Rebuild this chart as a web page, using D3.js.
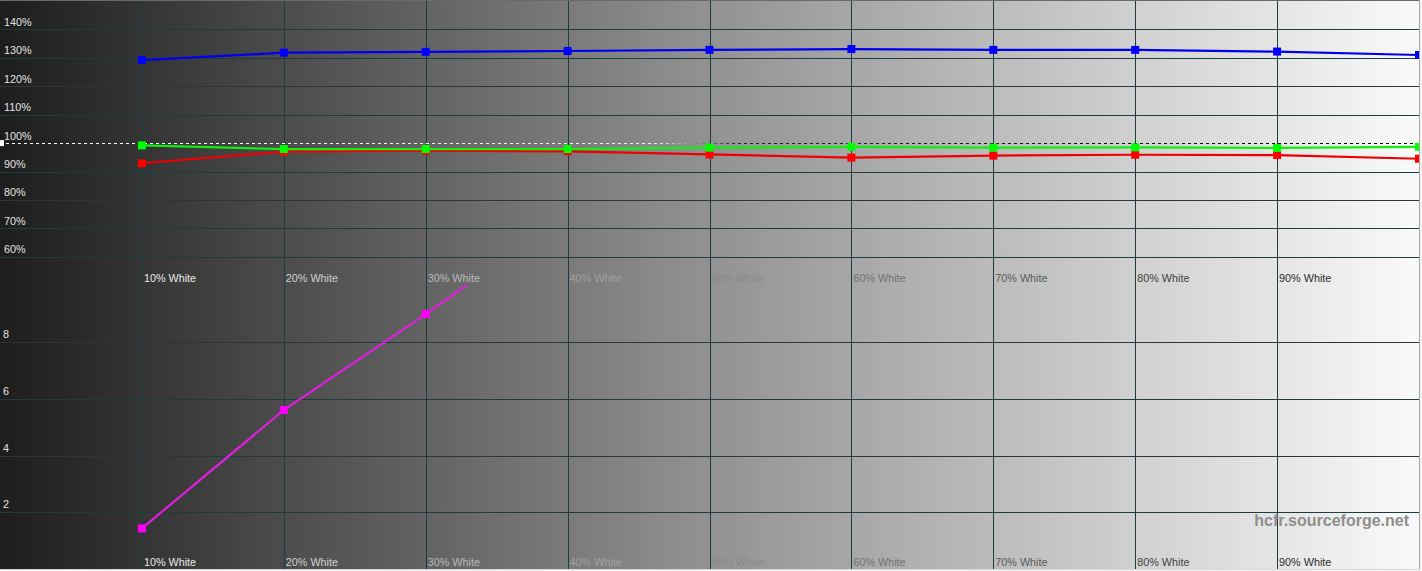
<!DOCTYPE html>
<html><head><meta charset="utf-8">
<script src="https://cdn.jsdelivr.net/npm/d3@7"></script>
<style>
html,body{margin:0;padding:0;background:#f4f4f4;overflow:hidden;}
svg{display:block;font-family:"Liberation Sans",Arial,sans-serif;}
</style></head>
<body>
<svg id="c" width="1422" height="571"></svg>
<script>
// ---- data ----
const levels = [10, 20, 30, 40, 50, 60, 70, 80, 90, 100];
const categories = ["10% White","20% White","30% White","40% White","50% White","60% White","70% White","80% White","90% White"];
const categoryLevels = [10, 20, 30, 40, 50, 60, 70, 80, 90];
const redPct   = [92.9, 97.0, 97.3, 97.1, 96.0, 94.9, 95.6, 95.9, 95.8, 94.5];
const greenPct = [99.2, 97.9, 97.9, 97.9, 98.4, 98.7, 98.4, 98.5, 98.3, 98.7];
const bluePct  = [129.2, 131.8, 132.1, 132.4, 132.8, 133.1, 132.8, 132.8, 132.2, 131.0];
const deltaELevels = [10, 20, 30, 40];
const deltaE = [1.44, 5.6, 8.97, 12.5];
const topTicks = [60, 70, 80, 90, 110, 120, 130, 140];
const topTickLabels = [60, 70, 80, 90, 100, 110, 120, 130, 140];
const bottomTicks = [2, 4, 6, 8];
const reference = 100;
const watermark = "hcfr.sourceforge.net";

// ---- layout ----
const W = 1420, H = 570;
const svg = d3.select("#c");
const x = d3.scaleLinear().domain([0, 100]).range([0, 1419]);
const yTop = d3.scaleLinear().domain([50, 150]).range([285.2, 1.0]);
const yBot = d3.scaleLinear().domain([0, 10]).range([569.4, 284.8]);

const defs = svg.append("defs");
const bg = defs.append("linearGradient").attr("id","bg").attr("x1","0").attr("x2","1").attr("y1","0").attr("y2","0");
bg.append("stop").attr("offset","0").attr("stop-color","#1d1d1d");
bg.append("stop").attr("offset","0.5").attr("stop-color","#929292");
bg.append("stop").attr("offset","1").attr("stop-color","#fafafa");
const dg = defs.append("linearGradient").attr("id","dash").attr("gradientUnits","userSpaceOnUse")
  .attr("x1",0).attr("x2",W).attr("y1",0).attr("y2",0);
dg.append("stop").attr("offset","0").attr("stop-color","#ffffff");
dg.append("stop").attr("offset","0.46").attr("stop-color","#eeeeee");
dg.append("stop").attr("offset","0.52").attr("stop-color","#222222");
dg.append("stop").attr("offset","1").attr("stop-color","#000000");
defs.append("clipPath").attr("id","clipTop").append("rect").attr("x",0).attr("y",0).attr("width",W).attr("height",285);
defs.append("clipPath").attr("id","clipBot").append("rect").attr("x",0).attr("y",285).attr("width",W).attr("height",285);

svg.append("rect").attr("x",0).attr("y",0).attr("width",W).attr("height",H).attr("fill","url(#bg)");

const gridColor = "#1c3d3d";
// horizontal grid - top panel
const gTop = svg.append("g").call(d3.axisRight(yTop).tickValues(topTicks).tickSize(W).tickFormat(""));
gTop.select(".domain").remove();
gTop.selectAll("line").attr("stroke", gridColor).attr("shape-rendering","crispEdges");
// horizontal grid - bottom panel
const gBot = svg.append("g").call(d3.axisRight(yBot).tickValues(bottomTicks).tickSize(W).tickFormat(""));
gBot.select(".domain").remove();
gBot.selectAll("line").attr("stroke", gridColor).attr("shape-rendering","crispEdges");
// vertical grid
const gX = svg.append("g").call(d3.axisBottom(x).tickValues(categoryLevels).tickSize(H).tickFormat(""));
gX.select(".domain").remove();
gX.selectAll("line").attr("stroke", gridColor).attr("shape-rendering","crispEdges");

// y tick labels
const labFont = "10.8px";
svg.append("g").selectAll("text").data(topTickLabels).join("text")
  .attr("x", 4).attr("y", d => yTop(d) - 3.5)
  .attr("font-size", labFont).attr("fill", "#e2e2e2").text(d => d + "%");
svg.append("g").selectAll("text").data(bottomTicks).join("text")
  .attr("x", 3).attr("y", d => yBot(d) - 4)
  .attr("font-size", labFont).attr("fill", "#e2e2e2").text(d => d);

// category labels
const labColor = p => { const v = Math.round(255 - p * 2.35); return d3.rgb(v, v, v).toString(); };
[281.5, 566].forEach(yy => {
  svg.append("g").selectAll("text").data(categories).join("text")
    .attr("x", (d,i) => x(categoryLevels[i]) + 2).attr("y", yy)
    .attr("font-size", labFont).attr("fill", (d,i) => labColor(categoryLevels[i])).text(d => d);
});

// reference dashed line
svg.append("line").attr("x1",0).attr("x2",W).attr("y1",Math.round(yTop(reference))+0.5).attr("y2",Math.round(yTop(reference))+0.5)
  .attr("stroke","url(#dash)").attr("stroke-width",1).attr("stroke-dasharray","3,3");
svg.append("rect").attr("x",0).attr("y",yTop(reference)-3).attr("width",4).attr("height",6).attr("fill","#ffffff");

// series
function drawSeries(vals, lv, yS, color, markColor, clip) {
  const pts = vals.map((v,i) => [x(lv[i]), yS(v)]);
  const g = svg.append("g").attr("clip-path", `url(#${clip})`);
  g.append("path").attr("d", d3.line()(pts)).attr("fill","none").attr("stroke",color).attr("stroke-width",2.2);
  g.selectAll("rect").data(pts).join("rect")
    .attr("x", d => d[0]-4).attr("y", d => d[1]-4).attr("width",8).attr("height",8).attr("fill",markColor);
}
drawSeries(redPct, levels, yTop, "#ee0000", "#ff0000", "clipTop");
drawSeries(greenPct, levels, yTop, "#11ee11", "#00ff00", "clipTop");
drawSeries(bluePct, levels, yTop, "#0000ee", "#0000ff", "clipTop");
drawSeries(deltaE, deltaELevels, yBot, "#e01ee0", "#ff00ff", "clipBot");

// watermark
svg.append("text").attr("x", 1409).attr("y", 526).attr("text-anchor","end")
  .attr("font-size","16px").attr("font-weight","bold").attr("fill","#8e8e8e").text(watermark);

// frame
svg.append("line").attr("x1",0).attr("x2",W).attr("y1",0.5).attr("y2",0.5).attr("stroke","#6a6a6a");
svg.append("line").attr("x1",W-0.5).attr("x2",W-0.5).attr("y1",0).attr("y2",H).attr("stroke","#a8a8a8");
svg.append("line").attr("x1",0).attr("x2",W).attr("y1",H-0.5).attr("y2",H-0.5).attr("stroke","#d8d8d8");
</script>
</body></html>
